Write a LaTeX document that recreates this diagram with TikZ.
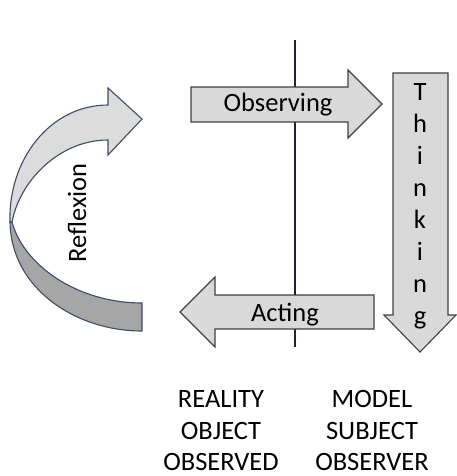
\documentclass[tikz,border=0pt]{standalone}
\usepackage{fontspec}
\setmainfont{Carlito}
\definecolor{arrowfill}{RGB}{217,217,217}
\definecolor{arrowline}{RGB}{64,64,64}
\definecolor{curvelight}{RGB}{220,220,220}
\definecolor{curvedark}{RGB}{166,166,166}
\definecolor{curveline}{RGB}{62,74,102}
\definecolor{divider}{RGB}{27,36,56}
\tikzset{
  blockarrow/.style={fill=arrowfill, draw=arrowline, line width=1.1pt, line join=miter},
  curveband/.style={draw=curveline, line width=1.1pt, line join=miter},
  lbl/.style={font=\fontsize{26.5}{31}\selectfont, inner sep=0pt, anchor=base},
  caption/.style={font=\fontsize{26.5}{31}\selectfont, inner sep=0pt, anchor=base},
}
\begin{document}
\begin{tikzpicture}[x=1pt,y=-1pt]
\useasboundingbox (0,0) rectangle (456,476);

% dividing line between reality and model
\coordinate (divtop) at (295,40);
\coordinate (divbot) at (295,347);
\draw[divider, line width=2.6pt] (divtop) -- (divbot);

% Observing: reality -> model
\draw[blockarrow] (191,87) -- (348,87) -- (348,70) -- (382,104) -- (348,138)
  -- (348,122) -- (191,122) -- cycle;
\node[lbl] (observing) at (278,112) {Observing};

% Acting: model -> reality
\draw[blockarrow] (374,295) -- (215,295) -- (215,277) -- (180,312) -- (215,347)
  -- (215,329) -- (374,329) -- cycle;
\node[lbl] (acting) at (285,321) {Acting};

% Thinking: downward arrow with stacked letters
\draw[blockarrow] (393,73) -- (448,73) -- (448,315) -- (456,315) -- (420,352)
  -- (384,315) -- (393,315) -- cycle;
\foreach \ch [count=\k] in {T,h,i,n,k,i,n,g}
  \node[lbl] (think\k) at (420,{101+31.9*(\k-1)}) {\ch};

% Reflexion: twisted curved arrow (back face below, front face with head above)
\draw[curveband, fill=curvedark] (10,222) .. controls (11,288) and (75,331) .. (142,331)
  -- (142,303) .. controls (78,303) and (24,266) .. (12,222) -- cycle;
\draw[curveband, fill=curvelight] (10,222) .. controls (8,160) and (50,105) .. (108,105)
  -- (108,88) -- (142,119) -- (108,155) -- (108,140)
  .. controls (60,140) and (20,180) .. (12,222) -- cycle;
\node[lbl, rotate=90] (reflexion) at (86,213) {Reflexion};

% captions under the two sides
\node[caption] (reality)  at (221,407) {REALITY};
\node[caption] (object)   at (221,439) {OBJECT};
\node[caption] (observed) at (221,470) {OBSERVED};
\node[caption] (model)    at (372,407) {MODEL};
\node[caption] (subject)  at (372,439) {SUBJECT};
\node[caption] (observer) at (372,470) {OBSERVER};
\end{tikzpicture}
\end{document}
